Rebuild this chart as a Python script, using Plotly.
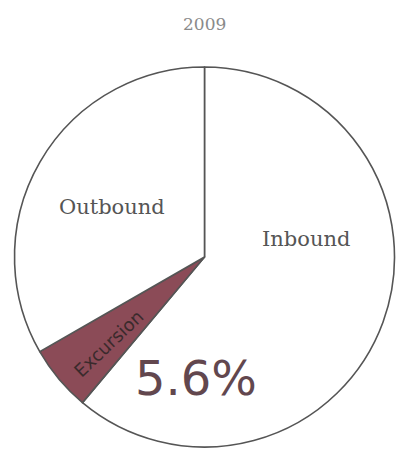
import plotly.graph_objects as go

labels = ["Inbound", "Excursion", "Outbound"]
values = [61.1, 5.6, 33.3]
title_text = "2009"
highlight_text = "5.6%"

colors = ["#ffffff", "#8b4b57", "#ffffff"]

W, H = 398, 450
cx, cy, r = 204.5, 257, 190

fig = go.Figure(go.Pie(
    labels=labels, values=values, sort=False, direction="clockwise", rotation=0,
    marker=dict(colors=colors, line=dict(color="#555555", width=1.6)),
    textinfo="none", hoverinfo="label+percent", showlegend=False,
    domain=dict(x=[(cx - r) / W, (cx + r) / W], y=[1 - (cy + r) / H, 1 - (cy - r) / H]),
))

def px(x, y):
    return x / W, 1 - y / H

ann = []
serif = "DejaVu Serif, Liberation Serif, serif"
for lab, (x, y), size, ang, col, fam in [
    (labels[0], (305.5, 239), 21, 0, "#555555", serif),
    (labels[2], (111.5, 207), 21, 0, "#555555", serif),
    (labels[1], (108.5, 343.5), 18, -43.5, "#3a2a2c", "DejaVu Sans, sans-serif"),
]:
    xx, yy = px(x, y)
    ann.append(dict(x=xx, y=yy, xref="paper", yref="paper", text=lab, showarrow=False,
                    textangle=ang, font=dict(family=fam, size=size, color=col),
                    xanchor="center", yanchor="middle"))
xx, yy = px(196, 378)
ann.append(dict(x=xx, y=yy, xref="paper", yref="paper", text=highlight_text, showarrow=False,
                font=dict(family="DejaVu Sans, sans-serif", size=48, color="#62474e"),
                xanchor="center", yanchor="middle"))
xx, yy = px(205, 24)
ann.append(dict(x=xx, y=yy, xref="paper", yref="paper", text=title_text, showarrow=False,
                font=dict(family=serif, size=17, color="#8a8a8a"),
                xanchor="center", yanchor="middle"))

fig.update_layout(width=W, height=H, margin=dict(l=0, r=0, t=0, b=0),
                  paper_bgcolor="white", plot_bgcolor="white", annotations=ann)
fig.write_html("out.html")
